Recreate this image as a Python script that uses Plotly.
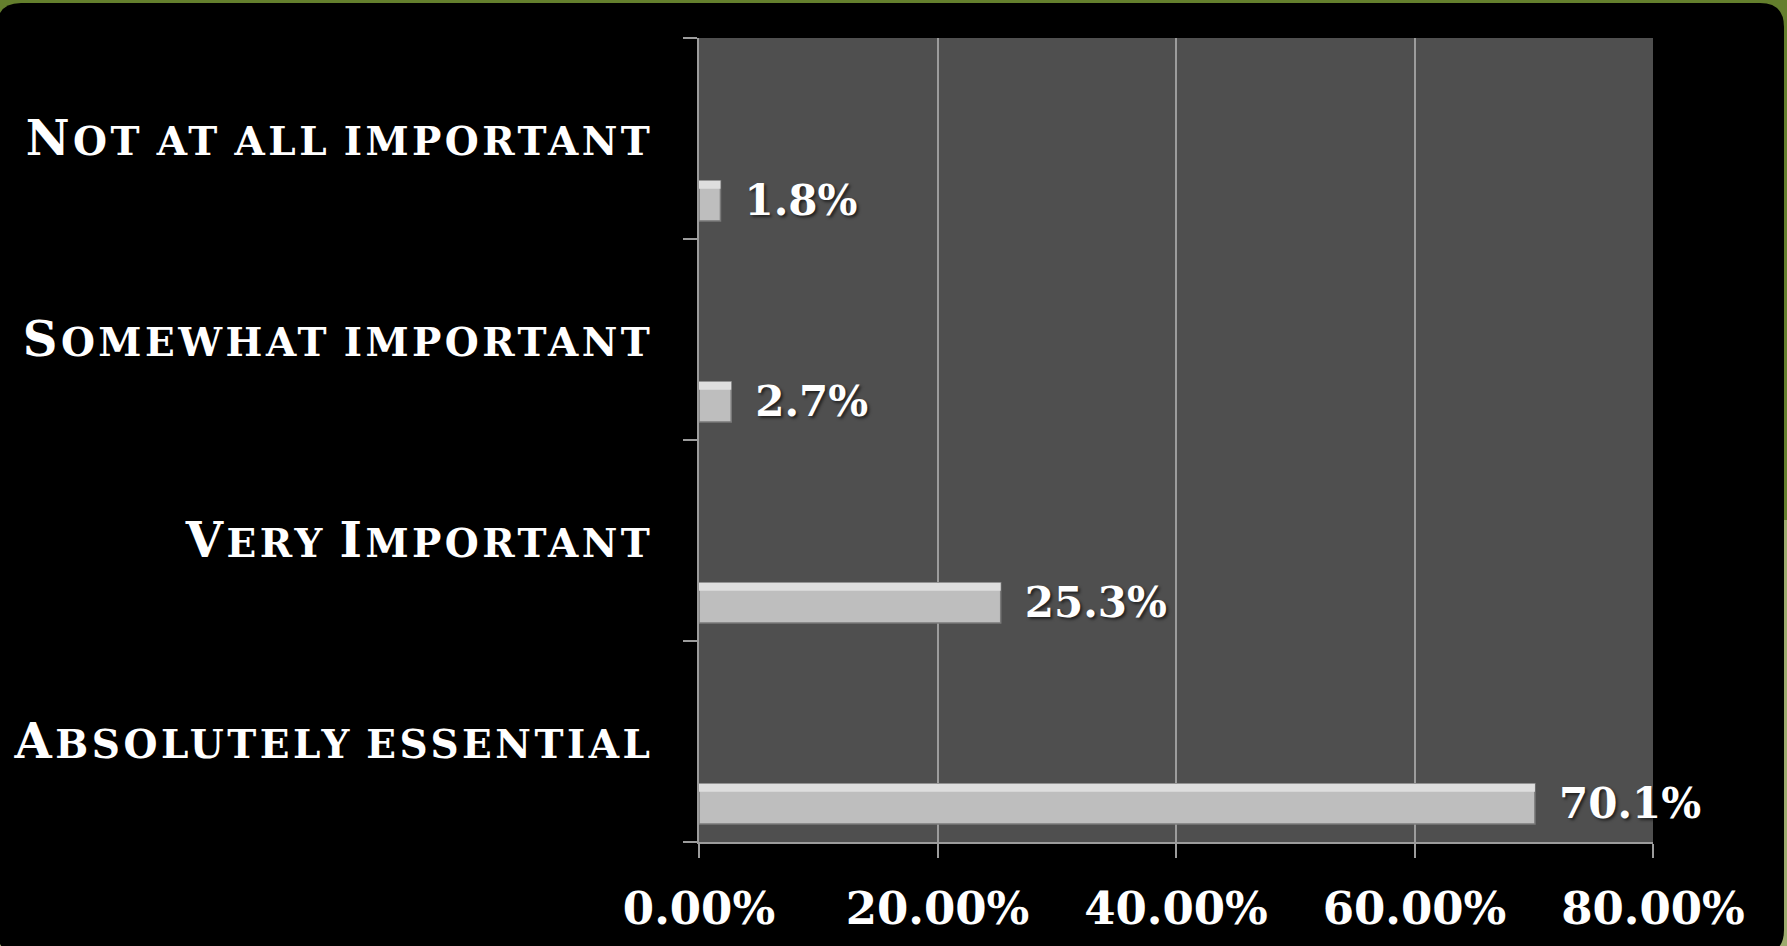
import plotly.graph_objects as go

categories = ["Absolutely essential", "Very Important", "Somewhat important", "Not at all important"]
values = [0.701, 0.253, 0.027, 0.018]
tick_vals = [0.0, 0.2, 0.4, 0.6, 0.8]

W, H = 1787, 946
L, R, T, B = 699, 1653, 38, 842


def px(x):
    return (x - L) / (R - L)


def py(y):
    return (B - y) / (B - T)


def rounded_rect(x0, y0, x1, y1, r):
    pts = [
        f"M {px(x0 + r)},{py(y0)}",
        f"L {px(x1 - r)},{py(y0)}",
        f"Q {px(x1)},{py(y0)} {px(x1)},{py(y0 + r)}",
        f"L {px(x1)},{py(y1 - r)}",
        f"Q {px(x1)},{py(y1)} {px(x1 - r)},{py(y1)}",
        f"L {px(x0 + r)},{py(y1)}",
        f"Q {px(x0)},{py(y1)} {px(x0)},{py(y1 - r)}",
        f"L {px(x0)},{py(y0 + r)}",
        f"Q {px(x0)},{py(y0)} {px(x0 + r)},{py(y0)}",
        "Z",
    ]
    return " ".join(pts)


def small_caps(label, big=48, small=39, spacing=3.5):
    """Build a small-caps label: capital initials large, other letters as smaller capitals."""
    out = []
    for word in label.split(" "):
        first, rest = word[0], word[1:]
        if first.isupper():
            head = f"<span style='font-size:{big}px;letter-spacing:{spacing}px'>{first}</span>"
        else:
            head = f"<span style='font-size:{small}px;letter-spacing:{spacing}px'>{first.upper()}</span>"
        tail = f"<span style='font-size:{small}px;letter-spacing:{spacing}px'>{rest.upper()}</span>" if rest else ""
        out.append(head + tail)
    return f"<span style='font-size:{small}px'> </span>".join(out)


tick_text = [small_caps(c) for c in categories]

FONT = "DejaVu Serif"

fig = go.Figure()
fig.add_trace(go.Bar(
    y=categories,
    x=values,
    orientation="h",
    width=0.2,
    offset=-0.41,
    marker=dict(color="#BEBEBE", line=dict(color="#7A7A7A", width=1.5)),
    texttemplate="\u2002%{x:.1%}",
    textposition="outside",
    constraintext="none",
    cliponaxis=False,
    textfont=dict(family=FONT, size=42, color="white", weight="bold",
                  shadow="2px 2px 3px rgba(0,0,0,0.6)"),
    hoverinfo="skip",
))
# top highlight of the bevelled bars
fig.add_trace(go.Bar(
    y=categories,
    x=values,
    orientation="h",
    width=0.04,
    offset=-0.25,
    marker=dict(color="#DEDEDE", line=dict(width=0)),
    hoverinfo="skip",
))

shapes = [
    dict(type="rect", xref="paper", yref="paper", x0=px(0), x1=px(W), y0=py(H), y1=py(520),
         fillcolor="#9DAB6E", line=dict(width=0), layer="below"),
    dict(type="path", xref="paper", yref="paper", path=rounded_rect(-3, 3, 1784, 954, 24),
         fillcolor="#000000", line=dict(width=0), layer="below"),
    dict(type="rect", xref="paper", yref="paper", x0=0, x1=1, y0=0, y1=1,
         fillcolor="#4F4F4F", line=dict(width=0), layer="below"),
]

fig.update_layout(
    width=W, height=H,
    margin=dict(l=L, r=W - R, t=T, b=H - B, pad=0),
    paper_bgcolor="#647F2D",
    plot_bgcolor="rgba(0,0,0,0)",
    showlegend=False,
    barmode="overlay",
    shapes=shapes,
    xaxis=dict(
        range=[0, 0.8],
        tickvals=tick_vals,
        tickformat=".2%",
        showgrid=True, gridcolor="#9C9C9C", gridwidth=1.5,
        zeroline=False,
        showline=True, linecolor="#9C9C9C", linewidth=2,
        ticks="outside", ticklen=14, tickcolor="#9C9C9C", tickwidth=2,
        tickfont=dict(family=FONT, size=45, color="white", weight="bold"),
        ticklabelstandoff=12,
    ),
    yaxis=dict(
        type="category",
        categoryorder="array", categoryarray=categories,
        tickvals=categories, ticktext=tick_text,
        range=[-0.5, 3.5],
        tickson="boundaries",
        showgrid=False,
        showline=True, linecolor="#9C9C9C", linewidth=2,
        ticks="outside", ticklen=14, tickcolor="#9C9C9C", tickwidth=2,
        tickfont=dict(family=FONT, size=48, color="white", weight="bold"),
        ticklabelstandoff=34,
    ),
)

fig.write_html(
    "out.html",
    config={"displayModeBar": False},
    post_script="document.body.style.margin='0';document.body.style.overflow='hidden';",
)
